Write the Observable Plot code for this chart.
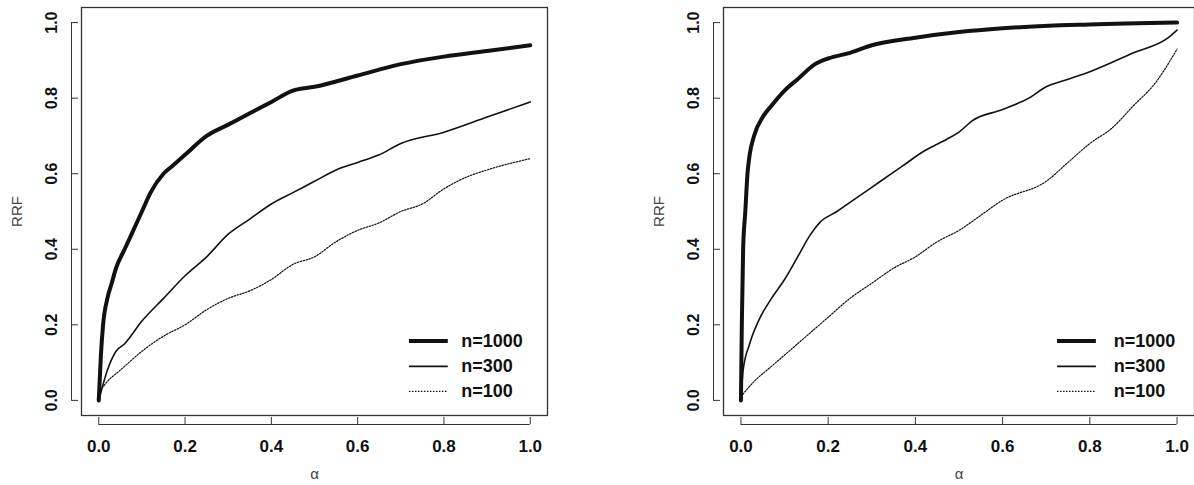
<!DOCTYPE html>
<html><head><meta charset="utf-8">
<script src="https://cdn.jsdelivr.net/npm/d3@7"></script>
<script src="https://cdn.jsdelivr.net/npm/@observablehq/plot@0.6"></script>
<style>
body{margin:0;background:#fff;font-family:"Liberation Sans",Arial,sans-serif}
#wrap{display:flex;width:1194px;height:485px}
</style></head><body>
<div id="wrap"></div>
<script>
// tick labels
const ticks = [0, 0.2, 0.4, 0.6, 0.8, 1.0];
const seriesNames = ["n=1000", "n=300", "n=100"];

// left panel
const leftAlpha1000 = [0,0.005,0.01,0.02,0.03,0.04,0.06,0.08,0.1,0.12,0.15,0.17,0.2,0.25,0.3,0.35,0.4,0.45,0.5,0.6,0.7,0.8,0.9,1.0];
const leftRRF1000   = [0,0.12,0.2,0.27,0.31,0.35,0.4,0.45,0.5,0.55,0.6,0.62,0.65,0.7,0.73,0.76,0.79,0.82,0.83,0.86,0.89,0.91,0.925,0.94];
const leftAlpha300  = [0,0.02,0.04,0.06,0.1,0.15,0.2,0.25,0.3,0.35,0.4,0.45,0.5,0.55,0.6,0.65,0.7,0.8,0.9,1.0];
const leftRRF300    = [0,0.08,0.13,0.15,0.21,0.27,0.33,0.38,0.44,0.48,0.52,0.55,0.58,0.61,0.63,0.65,0.68,0.71,0.75,0.79];
const leftAlpha100  = [0,0.02,0.05,0.1,0.15,0.2,0.25,0.3,0.35,0.4,0.45,0.5,0.55,0.6,0.65,0.7,0.75,0.8,0.85,0.9,1.0];
const leftRRF100    = [0.02,0.05,0.08,0.13,0.17,0.2,0.24,0.27,0.29,0.32,0.36,0.38,0.42,0.45,0.47,0.5,0.52,0.56,0.59,0.61,0.64];

// right panel
const rightAlpha1000 = [0,0.002,0.005,0.01,0.015,0.02,0.03,0.05,0.07,0.1,0.13,0.17,0.2,0.25,0.3,0.4,0.5,0.6,0.8,1.0];
const rightRRF1000   = [0,0.2,0.4,0.5,0.6,0.65,0.7,0.75,0.78,0.82,0.85,0.89,0.905,0.92,0.94,0.96,0.975,0.985,0.995,1.0];
const rightAlpha300  = [0,0.005,0.02,0.04,0.07,0.1,0.13,0.16,0.18,0.22,0.27,0.32,0.37,0.42,0.47,0.5,0.53,0.6,0.66,0.7,0.75,0.8,0.9,0.98,1.0];
const rightRRF300    = [0,0.08,0.15,0.21,0.27,0.32,0.38,0.44,0.47,0.5,0.54,0.58,0.62,0.66,0.69,0.71,0.74,0.77,0.8,0.83,0.85,0.87,0.92,0.96,0.98];
const rightAlpha100  = [0,0.03,0.07,0.1,0.15,0.2,0.25,0.3,0.35,0.4,0.45,0.5,0.55,0.6,0.7,0.75,0.8,0.85,0.9,0.95,1.0];
const rightRRF100    = [0.01,0.05,0.09,0.12,0.17,0.22,0.27,0.31,0.35,0.38,0.42,0.45,0.49,0.53,0.58,0.63,0.68,0.72,0.78,0.84,0.93];

const styles = [
  {strokeWidth: 4},
  {strokeWidth: 1.6},
  {strokeWidth: 1.2, strokeDasharray: "1.5,1.5"}
];

function zip(xs, ys) { return xs.map((x, i) => ({x, y: ys[i]})); }

function panel(series, marginLeft, marginRight, legX) {
  const W = 597, H = 485;
  const plotW = W - marginLeft - marginRight;
  const ux = 1.08 / plotW, uy = 1.08 / (H - 7 - 70);
  const legY = [0.157, 0.09, 0.024];
  const marks = [Plot.frame({stroke: "#333", strokeWidth: 1.3})];
  series.forEach((s, i) => marks.push(Plot.line(s, {x: "x", y: "y", stroke: "#111", curve: "monotone-x", ...styles[i]})));
  // legend
  seriesNames.forEach((name, i) => {
    marks.push(Plot.ruleY([legY[i]], {x1: legX[0], x2: legX[1], stroke: "#111", ...styles[i]}));
  });
  marks.push(Plot.text(seriesNames, {x: legX[2], y: (d, i) => legY[i], text: d => d, textAnchor: "start",
    fontSize: 18, fontWeight: "bold", fill: "#111", letterSpacing: "-0.5px"}));
  // x axis (R style, offset below frame)
  const ax = -0.04 - 9 * uy;
  marks.push(Plot.ruleY([ax], {x1: 0, x2: 1, stroke: "#333"}));
  marks.push(Plot.ruleX(ticks, {y1: ax, y2: ax + 7 * uy, stroke: "#333"}));
  marks.push(Plot.text(ticks, {x: d => d, y: ax, dy: 22, text: d => d.toFixed(1), fontSize: 17, fontWeight: "bold", fill: "#111"}));
  // y axis
  const ay = -0.04 - 10 * ux;
  marks.push(Plot.ruleX([ay], {y1: 0, y2: 1, stroke: "#333"}));
  marks.push(Plot.ruleY(ticks, {x1: ay, x2: ay + 7 * ux, stroke: "#333"}));
  marks.push(Plot.text(ticks, {x: ay, y: d => d, dx: -20, rotate: -90, text: d => d.toFixed(1), fontSize: 16, fontWeight: "bold", fill: "#111"}));
  // titles
  marks.push(Plot.text(["α"], {x: 0.5, y: ax, dy: 50, text: d => d, fontSize: 15, fill: "#444"}));
  marks.push(Plot.text(["RRF"], {x: ay, y: 0.5, dx: -54, rotate: -90, text: d => d, fontSize: 15, fill: "#444"}));
  return Plot.plot({
    width: W, height: H,
    marginLeft, marginRight, marginTop: 7, marginBottom: 70,
    x: {domain: [-0.04, 1.04], axis: null},
    y: {domain: [-0.04, 1.04], axis: null},
    style: {overflow: "visible", fontFamily: "Liberation Sans, Arial, sans-serif"},
    marks
  });
}

const wrap = document.getElementById("wrap");
wrap.append(panel([zip(leftAlpha1000, leftRRF1000), zip(leftAlpha300, leftRRF300), zip(leftAlpha100, leftRRF100)],
  81, 50, [0.72, 0.81, 0.84]));
wrap.append(panel([zip(rightAlpha1000, rightRRF1000), zip(rightAlpha300, rightRRF300), zip(rightAlpha100, rightRRF100)],
  126, 0, [0.726, 0.815, 0.855]));
</script></body></html>
